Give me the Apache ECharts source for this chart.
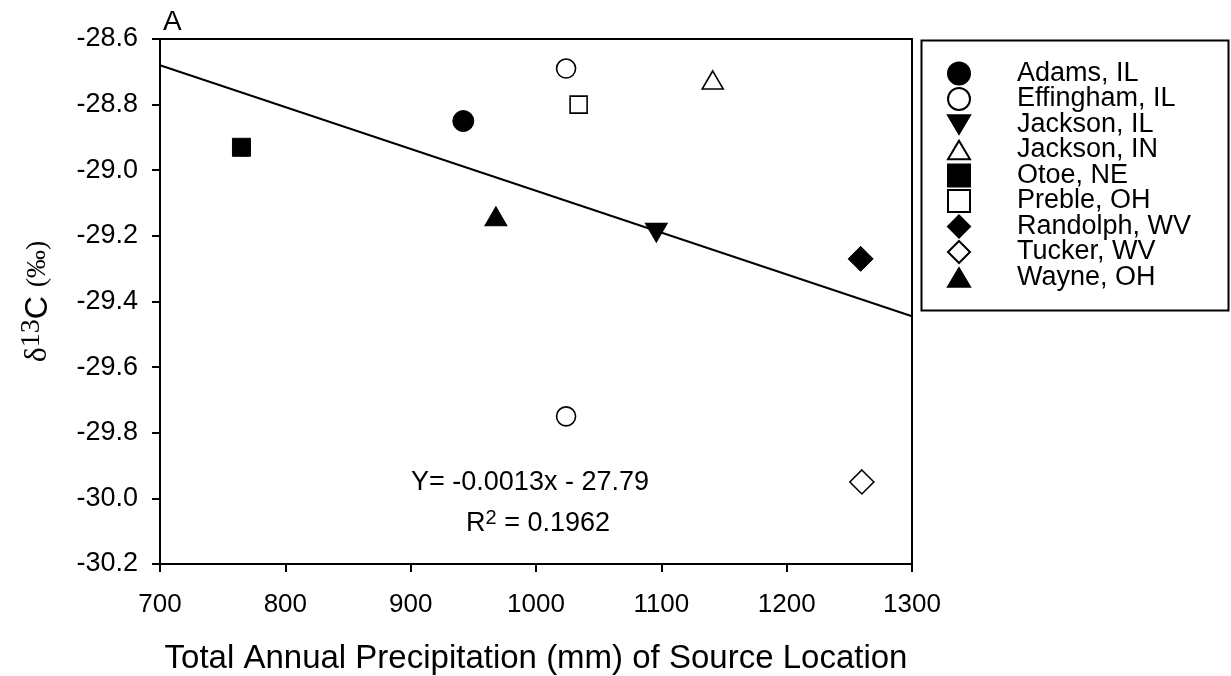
<!DOCTYPE html>
<html>
<head>
<meta charset="utf-8">
<script src="https://cdn.jsdelivr.net/npm/echarts@6/dist/echarts.min.js"></script>
<style>html,body{margin:0;padding:0;background:#fff}#c{width:1231px;height:676px}</style>
</head>
<body>
<div id="c"></div>
<script>
// Data
var sites = ['Adams, IL','Effingham, IL','Jackson, IL','Jackson, IN','Otoe, NE','Preble, OH','Randolph, WV','Tucker, WV','Wayne, OH'];
var adams = [[942, -28.85]];
var effingham = [[1024, -28.69], [1024, -29.75]];
var jacksonIL = [[1096, -29.19]];
var jacksonIN = [[1141, -28.725]];
var otoe = [[765, -28.93]];
var preble = [[1034, -28.80]];
var randolph = [[1259, -29.27]];
var tucker = [[1260, -29.95]];
var wayne = [[968, -29.14]];
var fitLine = [[700, -28.68], [1300, -29.445]];
var xTicks = [700, 800, 900, 1000, 1100, 1200, 1300];
var yTicks = [-30.2, -30.0, -29.8, -29.6, -29.4, -29.2, -29.0, -28.8, -28.6];
var equationText = 'Y= -0.0013x - 27.79';
var r2Text = '0.1962';

var FONT = 'Liberation Sans, Arial, sans-serif';
var SERIF = 'Liberation Serif, Times New Roman, serif';
var downTri = 'path://M0,0 L20,0 L10,17 Z';
var upTri = 'path://M10,0 L20,17 L0,17 Z';

function mk(name, data, symbol, size, filled) {
  return {
    name: name, type: 'scatter', data: data, symbol: symbol, symbolSize: size,
    itemStyle: filled ? { color: '#000', borderColor: '#000', borderWidth: 1, opacity: 1 } : { color: '#fff', borderColor: '#000', borderWidth: 1.6, opacity: 1 },
    emphasis: { disabled: true }, z: 5
  };
}

var chart = echarts.init(document.getElementById('c'));
chart.setOption({
  animation: false,
  backgroundColor: '#fff',
  grid: { left: 160, right: 319, top: 39, bottom: 112, containLabel: false, outerBoundsMode: 'none', show: true, borderColor: '#000', borderWidth: 2, backgroundColor: 'transparent' },
  xAxis: {
    type: 'value', min: xTicks[0], max: xTicks[xTicks.length - 1], interval: 100,
    name: 'Total Annual Precipitation (mm) of Source Location', nameLocation: 'middle', nameGap: 78,
    nameTextStyle: { fontFamily: FONT, fontSize: 33, color: '#000' },
    axisLine: { show: true, lineStyle: { color: '#000', width: 2 } },
    axisTick: { show: true, inside: false, length: 8, lineStyle: { color: '#000', width: 2 } },
    axisLabel: { fontFamily: FONT, fontSize: 26, color: '#000', margin: 28, formatter: function (v) { return String(v); } },
    splitLine: { show: false }
  },
  yAxis: {
    type: 'value', min: yTicks[0], max: yTicks[yTicks.length - 1], interval: 0.2,
    name: '{d|δ}{s|13}{c|C }{p|(‰)}', nameLocation: 'middle', nameGap: 102, nameRotate: 90,
    nameTextStyle: {
      rich: {
        d: { fontFamily: SERIF, fontSize: 32, color: '#000' },
        s: { fontFamily: SERIF, fontSize: 28, color: '#000', verticalAlign: 'top', padding: [0, 0, 12, 0] },
        c: { fontFamily: FONT, fontSize: 32, color: '#000' },
        p: { fontFamily: SERIF, fontSize: 28, color: '#000' }
      }
    },
    axisLine: { show: true, lineStyle: { color: '#000', width: 2 } },
    axisTick: { show: true, inside: false, length: 8, lineStyle: { color: '#000', width: 2 } },
    axisLabel: { fontFamily: FONT, fontSize: 27, color: '#000', margin: 22, formatter: function (v) { return v.toFixed(1); } },
    splitLine: { show: false }
  },
  legend: {
    orient: 'vertical', left: 947, top: 60, padding: 0, itemGap: -1.5,
    itemWidth: 22, itemHeight: 22,
    data: sites,
    textStyle: { fontFamily: FONT, fontSize: 27, color: '#000', padding: [0, 0, 0, 42] },
    selectedMode: false
  },
  series: [
    mk(sites[0], adams, 'circle', 21, true),
    mk(sites[1], effingham, 'circle', 19, false),
    mk(sites[2], jacksonIL, downTri, [22, 19], true),
    mk(sites[3], jacksonIN, upTri, [21, 18], false),
    mk(sites[4], otoe, 'rect', 18, true),
    mk(sites[5], preble, 'rect', 17, false),
    mk(sites[6], randolph, 'diamond', [25, 25], true),
    mk(sites[7], tucker, 'diamond', [24, 24], false),
    mk(sites[8], wayne, upTri, [22, 19], true),
    {
      name: 'fit', type: 'line', data: fitLine, symbol: 'none', silent: true,
      lineStyle: { color: '#000', width: 2 }, z: 3
    }
  ],
  graphic: [
    { type: 'rect', left: 919, top: 38, shape: { width: 307, height: 270 }, style: { fill: 'none', stroke: '#000', lineWidth: 2 } },
    { type: 'text', left: 163, top: 8, style: { text: 'A', font: '28px ' + FONT, fill: '#000' } },
    { type: 'text', x: 530, y: 483, style: { text: equationText, font: '27px ' + FONT, fill: '#000', align: 'center', verticalAlign: 'middle' } },
    {
      type: 'text', x: 538, y: 524,
      style: {
        text: '{r|R}{s|2}{r| = ' + r2Text + '}', align: 'center', verticalAlign: 'middle',
        rich: {
          r: { fontFamily: FONT, fontSize: 27, fill: '#000' },
          s: { fontFamily: FONT, fontSize: 20, fill: '#000', verticalAlign: 'top', padding: [0, 0, 12, 0] }
        }
      }
    }
  ]
});
</script>
</body>
</html>
